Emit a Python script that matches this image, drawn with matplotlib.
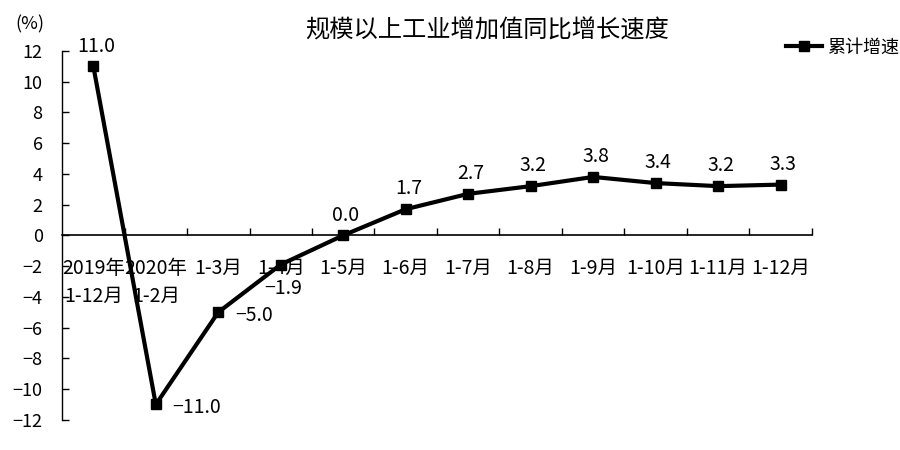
import matplotlib
matplotlib.use("Agg")
import matplotlib.pyplot as plt
import numpy as np

plt.rcParams['font.family'] = ['Noto Sans CJK SC', 'DejaVu Sans']

categories = ["2019年\n1-12月", "2020年\n1-2月", "1-3月", "1-4月", "1-5月", "1-6月",
              "1-7月", "1-8月", "1-9月", "1-10月", "1-11月", "1-12月"]
values = [11.0, -11.0, -5.0, -1.9, 0.0, 1.7, 2.7, 3.2, 3.8, 3.4, 3.2, 3.3]
label_pos = ["above", "right", "right", "below", "above", "above",
             "above", "above", "above", "above", "above", "above"]
yticks = list(range(-12, 13, 2))


def fmt(v, nd=1):
    s = f"{v:.{nd}f}" if nd else f"{v:d}"
    return s.replace("-", "\u2212")


fig = plt.figure(figsize=(9, 4.5), dpi=100)
ax = fig.add_axes([0.069, 0.067, 0.833, 0.82])

x = np.arange(len(categories))
ax.plot(x, values, color='black', lw=3, marker='s', ms=7, mfc='black', mec='black',
        label='累计增速', solid_joinstyle='miter')

for xi, v, pos in zip(x, values, label_pos):
    txt = fmt(v)
    if pos == "above":
        ax.annotate(txt, (xi, v), xytext=(2, 7), textcoords='offset points',
                    ha='center', va='bottom', fontsize=14)
    elif pos == "right":
        ax.annotate(txt, (xi, v), xytext=(12, -2), textcoords='offset points',
                    ha='left', va='center', fontsize=14)
    else:
        ax.annotate(txt, (xi, v), xytext=(2, -10), textcoords='offset points',
                    ha='center', va='top', fontsize=14)

ax.set_xlim(-0.5, len(categories) - 0.5)
ax.set_ylim(-12, 12)
ax.set_yticks(yticks)
ax.set_yticklabels([fmt(t, 0) for t in yticks], fontsize=13)
ax.tick_params(axis='y', direction='in', length=5, width=1, pad=14)

for s in ['top', 'right']:
    ax.spines[s].set_visible(False)
ax.spines['bottom'].set_position(('data', 0))
ax.spines['left'].set_linewidth(1)
ax.spines['bottom'].set_linewidth(1.2)

ax.set_xticks(x)
ax.set_xticklabels(categories, fontsize=14, linespacing=1.45)
ax.tick_params(axis='x', which='major', length=0, pad=16)
ax.set_xticks(np.arange(0.5, len(categories) - 0.4, 1), minor=True)
ax.tick_params(axis='x', which='minor', direction='in', length=5, width=1)

fig.text(0.541, 0.933, '规模以上工业增加值同比增长速度', ha='center', va='center', fontsize=17.5)
fig.text(0.033, 0.945, '(%)', ha='center', va='center', fontsize=13)

fig.legend(loc='center left', bbox_to_anchor=(0.855, 0.895), frameon=False,
           fontsize=13, handlelength=2.0, handletextpad=0.3)

fig.savefig('out.png', dpi=100)
